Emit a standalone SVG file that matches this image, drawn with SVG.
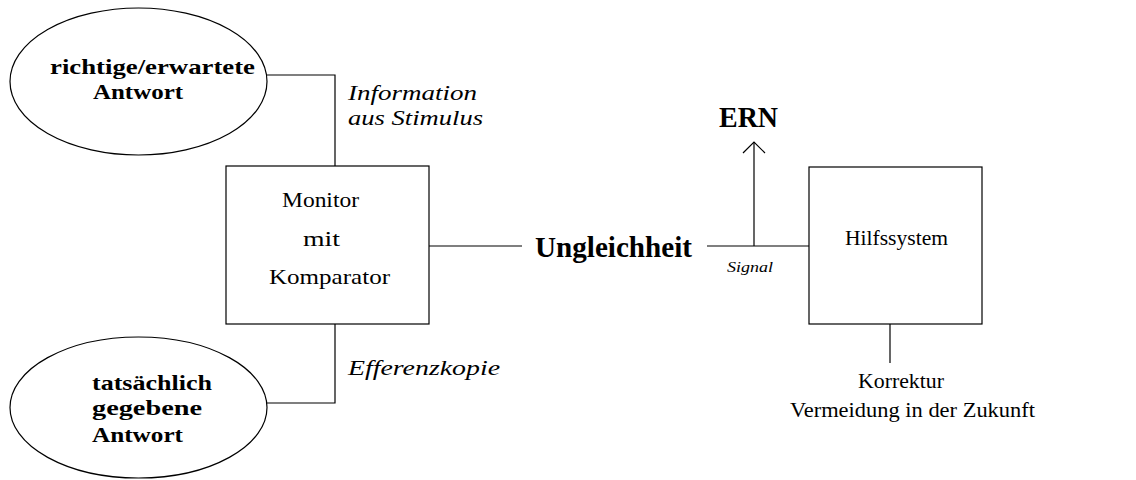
<svg xmlns="http://www.w3.org/2000/svg" width="1136" height="480" viewBox="0 0 1136 480">
<style>
.shape{fill:#fff;stroke:#000;stroke-width:1.2}
.line{fill:none;stroke:#000;stroke-width:1.2}
.b{font-family:"Liberation Serif",serif;font-weight:bold;fill:#000}
.r{font-family:"Liberation Serif",serif;fill:#000}
.i{font-family:"Liberation Serif",serif;font-style:italic;fill:#000}
</style>
<rect width="1136" height="480" fill="#fff"/>
<g id="connectors">
<path class="line" d="M267,75 H335 V166"/>
<path class="line" d="M267,403 H335 V324"/>
<path class="line" d="M429,246 H522"/>
<path class="line" d="M707,246 H809"/>
<path class="line" d="M754,246 V142"/>
<path class="line" d="M743,153 L754,142 L765,153"/>
<path class="line" d="M890,324 V363"/>
<text class="i" x="348" y="100" font-size="21" textLength="129" lengthAdjust="spacingAndGlyphs">Information</text>
<text class="i" x="348" y="125" font-size="21" textLength="135" lengthAdjust="spacingAndGlyphs">aus Stimulus</text>
<text class="i" x="348" y="375" font-size="21" textLength="152" lengthAdjust="spacingAndGlyphs">Efferenzkopie</text>
<text class="i" x="727" y="272" font-size="15" textLength="46" lengthAdjust="spacingAndGlyphs">Signal</text>
</g>
<g id="node-richtige">
<ellipse class="shape" cx="138.5" cy="81.5" rx="128.5" ry="73.5"/>
<text class="b" x="50" y="74" font-size="22" textLength="205" lengthAdjust="spacingAndGlyphs">richtige/erwartete</text>
<text class="b" x="93" y="99" font-size="22" textLength="90" lengthAdjust="spacingAndGlyphs">Antwort</text>
</g>
<g id="node-tatsaechlich">
<ellipse class="shape" cx="138.5" cy="407.5" rx="128.5" ry="70.5"/>
<text class="b" x="92" y="390" font-size="22" textLength="120" lengthAdjust="spacingAndGlyphs">tatsächlich</text>
<text class="b" x="92" y="415" font-size="22" textLength="110" lengthAdjust="spacingAndGlyphs">gegebene</text>
<text class="b" x="92" y="442" font-size="22" textLength="91" lengthAdjust="spacingAndGlyphs">Antwort</text>
</g>
<g id="node-monitor">
<rect class="shape" x="226" y="166" width="203" height="158"/>
<text class="r" x="282" y="207" font-size="21" textLength="77" lengthAdjust="spacingAndGlyphs">Monitor</text>
<text class="r" x="303" y="246" font-size="21" textLength="37" lengthAdjust="spacingAndGlyphs">mit</text>
<text class="r" x="269" y="284" font-size="21" textLength="121" lengthAdjust="spacingAndGlyphs">Komparator</text>
</g>
<g id="node-ungleichheit">
<text class="b" x="535" y="257" font-size="29" textLength="157" lengthAdjust="spacingAndGlyphs">Ungleichheit</text>
</g>
<g id="node-ern">
<text class="b" x="719" y="127" font-size="29" textLength="59" lengthAdjust="spacingAndGlyphs">ERN</text>
</g>
<g id="node-hilfssystem">
<rect class="shape" x="809" y="167" width="173" height="157"/>
<text class="r" x="845" y="245" font-size="21" textLength="103" lengthAdjust="spacingAndGlyphs">Hilfssystem</text>
</g>
<g id="node-korrektur">
<text class="r" x="858" y="388" font-size="21" textLength="86" lengthAdjust="spacingAndGlyphs">Korrektur</text>
<text class="r" x="790" y="417" font-size="21" textLength="245" lengthAdjust="spacingAndGlyphs">Vermeidung in der Zukunft</text>
</g>
</svg>
